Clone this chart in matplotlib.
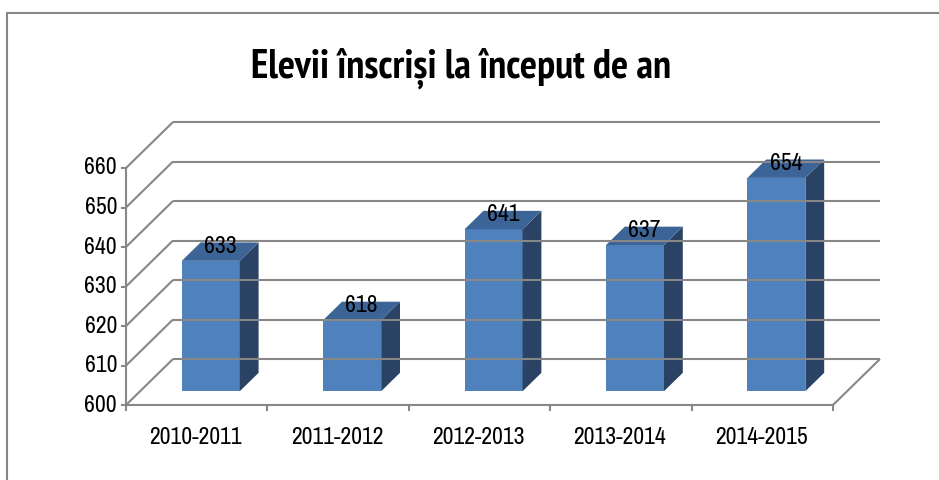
import matplotlib
matplotlib.use('Agg')
import matplotlib.pyplot as plt
from matplotlib.patches import Polygon, Rectangle
from matplotlib import font_manager
from matplotlib.font_manager import FontProperties
from matplotlib.transforms import offset_copy

# data
years = ['2010-2011', '2011-2012', '2012-2013', '2013-2014', '2014-2015']
students = [633, 618, 641, 637, 654]
y_ticks = [600, 610, 620, 630, 640, 650, 660]
title = 'Elevii înscriși la început de an'

STRETCH_ORDER = {'condensed': 0, 'semi-condensed': 1, 'extra-condensed': 2}


# look for a narrow sans font (the original is Calibri, squeezed)
def narrow_font(weight):
    found = [f for f in font_manager.fontManager.ttflist
             if f.style == 'normal'
             and (f.stretch in STRETCH_ORDER or 'Narrow' in f.name
                  or 'Condensed' in f.name)
             and 'Mono' not in f.name and 'Serif' not in f.name
             and 'DejaVu' not in f.name]
    if not found:
        return None

    def key(f):
        w = int(f.weight) if str(f.weight).isdigit() else 500
        return ('Narrow' not in f.name, STRETCH_ORDER.get(f.stretch, 3),
                abs(w - weight))
    found.sort(key=key)
    return found[0].fname


reg_file = narrow_font(400)
bold_file = narrow_font(700)


def fp(size, bold=False):
    f = bold_file if bold else reg_file
    if f is None:
        return FontProperties(family='DejaVu Sans', stretch='condensed',
                              weight='bold' if bold else 'normal', size=size)
    return FontProperties(fname=f, size=size)


W, H = 939, 480
fig = plt.figure(figsize=(W / 100, H / 100), dpi=100)
ax = fig.add_axes([0, 0, 1, 1])
renderer = fig.canvas.get_renderer()


def fit_size(text, target_px, bold=False, start=20):
    t = fig.text(0, 0, text, fontproperties=fp(start, bold))
    w = t.get_window_extent(renderer).width
    t.remove()
    return start * target_px / w


# front plane: x 126..833 px, 600 at y=405 px, 660 at y=168 px (from top)
left_px, right_px = 126, 833
base_px, top_px = 405, 168
n = len(years)
slot = (right_px - left_px) / n
k = (base_px - top_px) / (y_ticks[-1] - y_ticks[0])
vmin = y_ticks[0]
ax.set_xlim(-left_px / slot, (W - left_px) / slot)
ax.set_ylim(vmin - (H - base_px) / k, vmin + base_px / k)
ax.axis('off')

# depth shift of the back wall in data units
dx = 47 / slot
dy = 46 / k


def P(x, v, z):
    return (x + z * dx, v + z * dy)


grid_c = '#878787'
lw = 1.5

# back wall and left wall gridlines
for v in y_ticks:
    a, b = P(0, v, 1), P(n, v, 1)
    ax.plot([a[0], b[0]], [a[1], b[1]], color=grid_c, lw=lw, solid_capstyle='butt')
    a, b = P(0, v, 0), P(0, v, 1)
    ax.plot([a[0], b[0]], [a[1], b[1]], color=grid_c, lw=lw, solid_capstyle='butt')

# floor edges and value axis
for p, q in [((0, vmin, 0), (n, vmin, 0)),
             ((n, vmin, 0), (n, vmin, 1)),
             ((0, vmin, 0), (0, y_ticks[-1], 0))]:
    a, b = P(*p), P(*q)
    ax.plot([a[0], b[0]], [a[1], b[1]], color=grid_c, lw=lw, solid_capstyle='butt')

# tick marks
for i in range(n + 1):
    ax.plot([i, i], [vmin, vmin - 5 / k], color=grid_c, lw=lw)
for v in y_ticks:
    ax.plot([0, -4 / slot], [v, v], color=grid_c, lw=lw)

# bars
bw = 0.41
z0, z1 = 0.30, 0.70
front_c, side_c, top_c = '#4F81BD', '#2A4263', '#3C6496'
lab_size = min(fit_size(years[0], 93), 17)
for i, v in enumerate(students):
    x0 = i + 0.5 - bw / 2
    x1 = i + 0.5 + bw / 2
    front = [P(x0, vmin, z0), P(x1, vmin, z0), P(x1, v, z0), P(x0, v, z0)]
    side = [P(x1, vmin, z0), P(x1, vmin, z1), P(x1, v, z1), P(x1, v, z0)]
    top = [P(x0, v, z0), P(x1, v, z0), P(x1, v, z1), P(x0, v, z1)]
    ax.add_patch(Polygon(front, closed=True, facecolor=front_c, edgecolor='none'))
    ax.add_patch(Polygon(side, closed=True, facecolor=side_c, edgecolor='none'))
    ax.add_patch(Polygon(top, closed=True, facecolor=top_c, edgecolor='none'))
    lx, ly = P(i + 0.5, v, 0.5)
    ax.text(lx, ly, str(v), ha='center', va='baseline', fontproperties=fp(lab_size),
            color='black',
            transform=offset_copy(ax.transData, fig, x=0, y=-1, units='dots'))

# axis labels
tr_y = offset_copy(ax.transData, fig, x=-9, y=0, units='dots')
for v in y_ticks:
    ax.text(0, v, str(v), ha='right', va='center', fontproperties=fp(lab_size),
            transform=tr_y)
tr_x = offset_copy(ax.transData, fig, x=-1, y=-32, units='dots')
for i, lab in enumerate(years):
    ax.text(i + 0.5, vmin, lab, ha='center', va='center',
            fontproperties=fp(lab_size), transform=tr_x)

title_size = min(fit_size(title, 432, bold=True), 29)
fig.text(461 / W, 1 - 78 / H, title, ha='center', va='baseline',
         fontproperties=fp(title_size, bold=True))

# chart border (runs off the right and bottom)
fig.patches.append(Rectangle((6.5 / W, -0.1), 2, 1.1 - 13 / H,
                             transform=fig.transFigure, fill=False,
                             edgecolor=grid_c, lw=1.5))

fig.savefig('out.png', dpi=100, facecolor='white')
